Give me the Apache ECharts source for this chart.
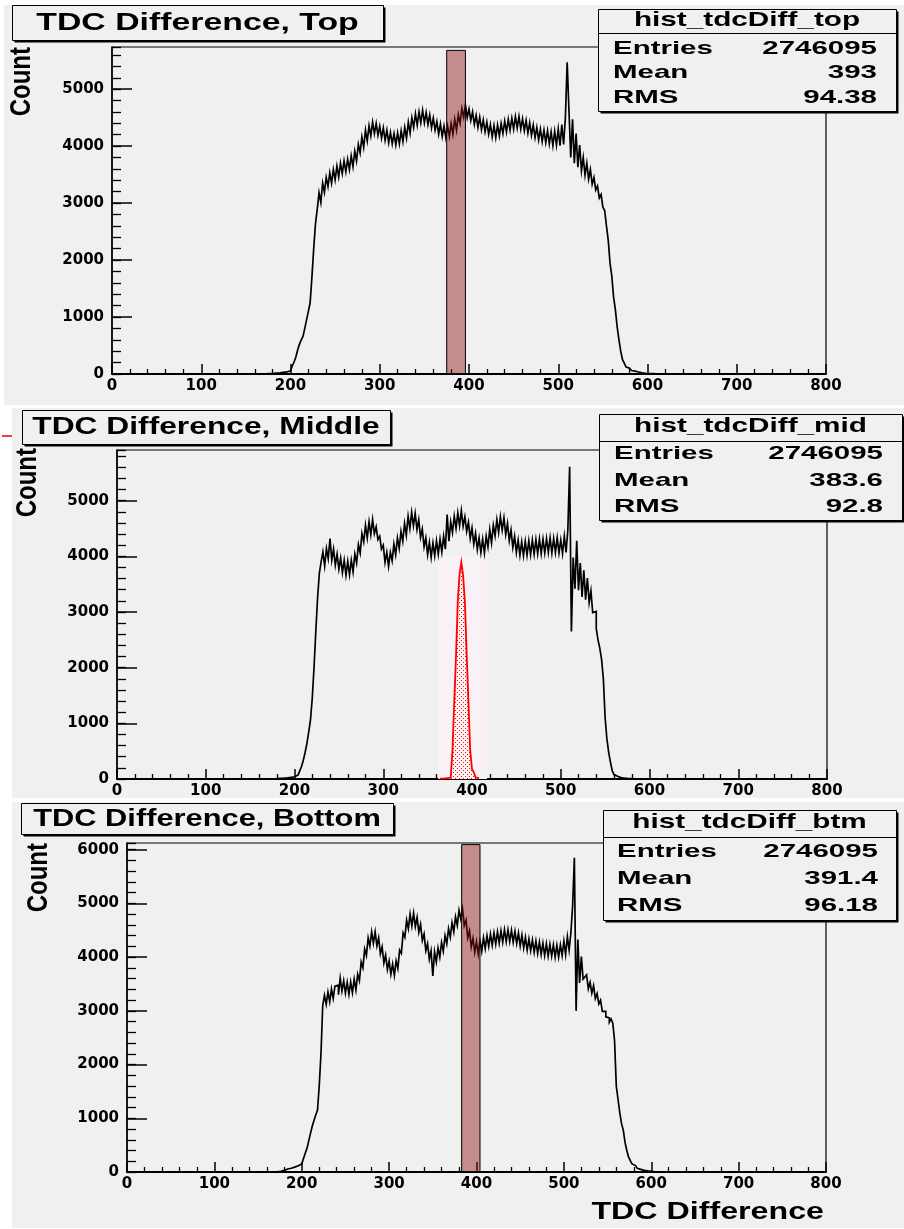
<!DOCTYPE html>
<html>
<head>
<meta charset="utf-8">
<title>TDC Difference</title>
<script src="https://cdn.jsdelivr.net/npm/echarts@6/dist/echarts.min.js"></script>
<style>
  html, body { margin: 0; padding: 0; background: #ffffff; }
  #wrap { position: relative; width: 904px; height: 1229px; }
  .pad { position: absolute; background: #f0f0f0; }
  #chart { position: absolute; left: 0; top: 0; width: 904px; height: 1229px; }
</style>
</head>
<body>
<div id="wrap">
  <div class="pad" style="left:4px;top:5px;width:900px;height:400px"></div>
  <div class="pad" style="left:12px;top:408px;width:892px;height:390px"></div>
  <div class="pad" style="left:12px;top:802px;width:892px;height:426px"></div>
  <div id="chart"></div>
</div>
<script>
// ---- histogram binning (lower edge of the first bin, bin width) ----
const binStart = 160;
const binWidth = 2;

// ---- counts per bin, top detector ----
const topCounts = [
  0, 0, 0, 2, 0, 3, 2, 5, 8, 6,
  12, 15, 14, 20, 24, 28, 32, 36, 44, 55,
  72, 140, 210, 300, 420, 520, 600, 660, 800, 950,
  1100, 1250, 1700, 2200, 2640, 2900, 3180, 3010, 3350, 3190,
  3450, 3290, 3530, 3350, 3590, 3410, 3650, 3460, 3700, 3520,
  3740, 3550, 3770, 3590, 3830, 3640, 3910, 3740, 4030, 3880,
  4160, 3980, 4280, 4090, 4360, 4180, 4420, 4220, 4400, 4190,
  4350, 4140, 4320, 4100, 4280, 4060, 4240, 4040, 4220, 4020,
  4230, 4040, 4270, 4080, 4330, 4140, 4420, 4230, 4500, 4330,
  4570, 4370, 4600, 4410, 4630, 4410, 4590, 4380, 4550, 4320,
  4490, 4280, 4430, 4210, 4390, 4170, 4350, 4150, 4350, 4170,
  4400, 4210, 4470, 4280, 4550, 4400, 4660, 4510, 4720, 4500,
  4650, 4450, 4600, 4380, 4540, 4330, 4510, 4290, 4460, 4250,
  4420, 4210, 4380, 4160, 4360, 4150, 4370, 4180, 4400, 4220,
  4440, 4250, 4470, 4280, 4490, 4300, 4520, 4320, 4520, 4300,
  4480, 4270, 4450, 4230, 4410, 4190, 4370, 4150, 4330, 4110,
  4300, 4080, 4280, 4060, 4270, 4040, 4250, 4010, 4260, 4020,
  4300, 4010, 4380, 4030, 4500, 5470, 4620, 3800, 4470, 3700,
  4220, 3630, 4020, 3570, 3800, 3490, 3700, 3420, 3590, 3330,
  3450, 3230, 3300, 3090, 3150, 2930, 2870, 2600, 2350, 1950,
  1720, 1350, 1130, 830, 600, 400, 250, 190, 120, 100,
  80, 60, 50, 40, 35, 25, 20, 15, 12, 10,
  8, 6, 5, 4, 3, 2, 1, 0, 0, 0
];

// ---- counts per bin, middle detector ----
const midCounts = [
  0, 0, 0, 0, 2, 0, 3, 4, 5, 6,
  8, 10, 12, 14, 16, 20, 24, 28, 34, 40,
  50, 70, 100, 150, 230, 340, 480, 640, 840, 1060,
  1450, 2000, 2650, 3250, 3700, 3900, 4080, 3830, 4140, 3960,
  4320, 3930, 4130, 3840, 4040, 3770, 3970, 3710, 3930, 3660,
  3910, 3670, 3930, 3720, 4040, 3880, 4210, 4060, 4410, 4260,
  4560, 4330, 4620, 4390, 4660, 4410, 4530, 4300, 4360, 4130,
  4200, 3890, 4070, 3820, 4070, 3920, 4220, 4030, 4330, 4140,
  4450, 4270, 4590, 4380, 4720, 4500, 4790, 4550, 4770, 4480,
  4660, 4340, 4490, 4170, 4330, 4030, 4250, 3980, 4240, 4010,
  4280, 4040, 4310, 4080, 4360, 4130, 4750, 4270, 4620, 4430,
  4720, 4500, 4780, 4550, 4820, 4540, 4710, 4450, 4610, 4320,
  4510, 4220, 4410, 4120, 4330, 4070, 4310, 4060, 4360, 4170,
  4480, 4240, 4560, 4370, 4660, 4430, 4710, 4470, 4690, 4390,
  4590, 4280, 4470, 4160, 4360, 4070, 4290, 4020, 4260, 4010,
  4270, 4020, 4280, 4030, 4290, 4040, 4300, 4050, 4310, 4050,
  4310, 4060, 4320, 4070, 4330, 4060, 4320, 4070, 4330, 4060,
  4290, 4050, 4360, 4070, 4480, 5610, 2650, 3980, 3420, 4280,
  3390, 3880, 3270, 3750, 3220, 3610, 3170, 3380, 2990, 3010,
  2700, 2500, 2350, 2150, 1800, 1100, 720, 480, 300, 150,
  80, 50, 30, 25, 18, 14, 10, 8, 6, 5,
  4, 3, 2, 1, 0, 0, 0, 0, 0, 0,
  0, 0, 0, 0, 0, 0, 0, 0, 0, 0
];

// ---- counts per bin, bottom detector ----
const btmCounts = [
  0, 0, 0, 2, 4, 6, 10, 14, 20, 30,
  45, 55, 62, 70, 80, 90, 100, 115, 130, 150,
  170, 250, 350, 440, 580, 720, 850, 960, 1060, 1150,
  1600, 2200, 3100, 3290, 3120, 3350, 3170, 3410, 3230, 3460,
  3480, 3300, 3610, 3370, 3560, 3330, 3530, 3310, 3540, 3340,
  3590, 3390, 3680, 3560, 3910, 3800, 4150, 4030, 4360, 4210,
  4470, 4260, 4470, 4210, 4360, 4060, 4190, 3890, 4040, 3770,
  3930, 3680, 3870, 3660, 3930, 3790, 4130, 4070, 4450, 4370,
  4690, 4530, 4800, 4580, 4820, 4570, 4740, 4460, 4610, 4310,
  4430, 4120, 4250, 3960, 4120, 3650, 4100, 3910, 4170, 4000,
  4270, 4110, 4400, 4250, 4530, 4370, 4640, 4470, 4750, 4590,
  4870, 4710, 4900, 4590, 4690, 4360, 4490, 4190, 4350, 4090,
  4290, 4060, 4300, 4110, 4360, 4160, 4400, 4200, 4430, 4220,
  4450, 4240, 4470, 4260, 4490, 4280, 4510, 4290, 4510, 4290,
  4500, 4280, 4480, 4250, 4450, 4210, 4410, 4170, 4370, 4130,
  4340, 4120, 4320, 4090, 4300, 4070, 4280, 4050, 4260, 4030,
  4250, 4020, 4240, 4020, 4230, 4000, 4220, 4000, 4230, 4030,
  4300, 4050, 4380, 4130, 4450, 4950, 5850, 3000, 4330, 3520,
  4010, 3590, 3630, 3670, 3410, 3530, 3330, 3470, 3230, 3320,
  3130, 3200, 2990, 2990, 2890, 2870, 2790, 2850, 2770, 2450,
  1600, 1350, 1100, 900, 780, 550, 400, 280, 210, 150,
  120, 90, 70, 50, 40, 30, 25, 20, 15, 12,
  8, 6, 4, 3, 2, 1, 0, 0, 0, 0
];

// ---- selected-window histogram in the middle detector ----
const selStart = 364;
const selCounts = [5, 8, 12, 15, 20, 25, 30, 510, 1380, 2215, 3200, 3680, 3890, 3650, 3170, 2245, 1377, 509, 180, 120, 30, 10];

// ---- cut windows: [low edge, high edge, height] ----
const topWindow = [375, 396, 5680];
const midWindow = [362, 417, 4000];
const btmWindow = [383, 404, 6095];

// ---- axes ----
const xRange = [0, 800];
const yMax = [5740, 5910, 6125];

// ---- text ----
const panelTitles = ['TDC Difference, Top', 'TDC Difference, Middle', 'TDC Difference, Bottom'];
const histNames = ['hist_tdcDiff_top', 'hist_tdcDiff_mid', 'hist_tdcDiff_btm'];
const statLabels = ['Entries', 'Mean', 'RMS'];
const statEntries = ['2746095', '2746095', '2746095'];
const statMeans = ['393', '383.6', '391.4'];
const statRms = ['94.38', '92.8', '96.18'];
const yTitle = 'Count';
const xTitle = 'TDC Difference';

// ---- page layout ----
const layout = [
  { grid: { left: 112, top: 47, width: 714, height: 327 },
    title: [12, 5, 383, 40], titleScale: 1.47, stats: [598, 9, 896, 111], statsLine: 33, rows: [20.7, 49, 72.7, 97.3],
    labelX: 613, valueX: 877, count: [22, 47] },
  { grid: { left: 117, top: 450, width: 710, height: 329 },
    title: [22, 410, 390, 444], titleScale: 1.38, stats: [599, 414, 902, 520], statsLine: 441, rows: [426.7, 453.3, 480.7, 506.7],
    labelX: 614, valueX: 883, count: [28, 448] },
  { grid: { left: 127, top: 843, width: 699, height: 329 },
    title: [21, 803, 393, 834], titleScale: 1.34, stats: [603, 810, 896, 920], statsLine: 837, rows: [822.7, 851.7, 879, 906],
    labelX: 617, valueX: 878, count: [39, 843] }
];

const PAD_BG = '#f0f0f0';
const TEXT_FONT = '"Liberation Sans", Arial, sans-serif';
const TICK_FONT = '"DejaVu Sans", sans-serif';

// histogram outline: each bin contributes its two edges at its own height,
// consecutive bins meet in a vertical segment
function histOutline(counts, start, width) {
  const pts = [];
  counts.forEach((v, i) => {
    pts.push([start + i * width, v]);
    pts.push([start + (i + 1) * width, v]);
  });
  return pts;
}

// dense red dot fill
function dotPattern() {
  const c = document.createElement('canvas');
  c.width = 4; c.height = 4;
  const g = c.getContext('2d');
  g.fillStyle = '#fff5f7';
  g.fillRect(0, 0, 4, 4);
  g.fillStyle = '#ff0000';
  g.fillRect(1, 0, 1, 1);
  g.fillRect(3, 2, 1, 1);
  return c;
}

function windowSeries(idx, win, style, z) {
  return {
    type: 'custom',
    xAxisIndex: idx, yAxisIndex: 2 * idx,
    z: z, silent: true,
    encode: { x: [0, 1], y: 2 },
    data: [win],
    renderItem: function (params, api) {
      const p0 = api.coord([api.value(0), api.value(2)]);
      const p1 = api.coord([api.value(1), 0]);
      return {
        type: 'rect',
        shape: { x: p0[0], y: p0[1], width: p1[0] - p0[0], height: p1[1] - p0[1] },
        style: style
      };
    }
  };
}

const plainNumber = v => String(v);
const grids = [], xAxes = [], yAxes = [], series = [], elements = [];
const countsList = [topCounts, midCounts, btmCounts];

layout.forEach((L, i) => {
  grids.push(Object.assign({ show: true, borderColor: '#000', borderWidth: 1.2,
    backgroundColor: 'transparent', containLabel: false, outerBoundsMode: 'none' }, L.grid));

  xAxes.push({
    type: 'value', gridIndex: i, min: xRange[0], max: xRange[1], interval: 100,
    axisLine: { show: true, onZero: false, lineStyle: { color: '#000', width: 2 } },
    axisTick: { show: true, inside: true, length: 10, lineStyle: { color: '#000', width: 1.5 } },
    minorTick: { show: true, splitNumber: 5, length: 5, lineStyle: { color: '#000', width: 1.3 } },
    splitLine: { show: false }, minorSplitLine: { show: false },
    axisLabel: { margin: 5, color: '#000', fontFamily: TICK_FONT, fontWeight: 'bold', fontSize: 15, formatter: plainNumber }
  });

  // labelled axis with the long ticks every 1000
  yAxes.push({
    type: 'value', gridIndex: i, position: 'left', min: 0, max: yMax[i], interval: 1000,
    axisLine: { show: true, onZero: false, lineStyle: { color: '#000', width: 1.5 } },
    axisTick: { show: true, inside: true, length: 20, lineStyle: { color: '#000', width: 1.5 } },
    splitLine: { show: false },
    axisLabel: { showMaxLabel: false, margin: 8, color: '#000', fontFamily: TICK_FONT, fontWeight: 'bold', fontSize: 15, formatter: plainNumber }
  });
  // short ticks every 200
  yAxes.push({
    type: 'value', gridIndex: i, position: 'left', offset: 0, min: 0, max: yMax[i], interval: 200,
    axisLine: { show: false },
    axisTick: { show: true, inside: true, length: 9, lineStyle: { color: '#000', width: 1.3 } },
    splitLine: { show: false }, axisLabel: { show: false }
  });

  series.push({
    type: 'line', xAxisIndex: i, yAxisIndex: 2 * i,
    showSymbol: false, symbol: 'none', silent: true, z: 2,
    lineStyle: { color: '#000', width: 1.7, join: 'miter' },
    data: histOutline(countsList[i], binStart, binWidth)
  });

  // title box
  const [tx0, ty0, tx1, ty1] = L.title;
  elements.push({ type: 'rect', z: 100, shape: { x: tx0 + 2.5, y: ty0 + 2.5, width: tx1 - tx0, height: ty1 - ty0 }, style: { fill: '#000' } });
  elements.push({ type: 'rect', z: 101, shape: { x: tx0 + 0.5, y: ty0 + 0.5, width: tx1 - tx0, height: ty1 - ty0 }, style: { fill: PAD_BG, stroke: '#000', lineWidth: 1 } });
  elements.push({ type: 'text', z: 102, x: (tx0 + tx1) / 2, y: (ty0 + ty1) / 2 + 1, scaleX: L.titleScale,
    style: { text: panelTitles[i], fill: '#000', fontFamily: TEXT_FONT, fontWeight: 'bold', fontSize: 23, align: 'center', verticalAlign: 'middle' } });

  // statistics box
  const [sx0, sy0, sx1, sy1] = L.stats;
  elements.push({ type: 'rect', z: 100, shape: { x: sx0 + 2.5, y: sy0 + 2.5, width: sx1 - sx0, height: sy1 - sy0 }, style: { fill: '#000' } });
  elements.push({ type: 'rect', z: 101, shape: { x: sx0 + 0.5, y: sy0 + 0.5, width: sx1 - sx0, height: sy1 - sy0 }, style: { fill: PAD_BG, stroke: '#000', lineWidth: 1 } });
  elements.push({ type: 'line', z: 102, shape: { x1: sx0, y1: L.statsLine + 0.5, x2: sx1, y2: L.statsLine + 0.5 }, style: { stroke: '#000', lineWidth: 1 } });
  elements.push({ type: 'text', z: 102, x: (sx0 + sx1) / 2, y: L.rows[0], scaleX: 1.45,
    style: { text: histNames[i], fill: '#000', fontFamily: TEXT_FONT, fontWeight: 'bold', fontSize: 20.5, align: 'center', verticalAlign: 'middle' } });
  const vals = [statEntries[i], statMeans[i], statRms[i]];
  statLabels.forEach((lab, k) => {
    elements.push({ type: 'text', z: 102, x: L.labelX, y: L.rows[k + 1], scaleX: 1.55,
      style: { text: lab, fill: '#000', fontFamily: TEXT_FONT, fontWeight: 'bold', fontSize: 19, align: 'left', verticalAlign: 'middle' } });
    elements.push({ type: 'text', z: 102, x: L.valueX, y: L.rows[k + 1], scaleX: 1.55,
      style: { text: vals[k], fill: '#000', fontFamily: TEXT_FONT, fontWeight: 'bold', fontSize: 19, align: 'right', verticalAlign: 'middle' } });
  });

  // rotated y title
  elements.push({ type: 'text', z: 102, x: L.count[0], y: L.count[1], rotation: Math.PI / 2, scaleY: 1.22,
    style: { text: yTitle, fill: '#000', fontFamily: TEXT_FONT, fontWeight: 'bold', fontSize: 24, align: 'right', verticalAlign: 'middle' } });
});

// cut windows
series.push(windowSeries(0, topWindow, { fill: 'rgba(139, 20, 20, 0.45)', stroke: '#000', lineWidth: 1 }, 3));
series.push(windowSeries(2, btmWindow, { fill: 'rgba(139, 20, 20, 0.45)', stroke: '#000', lineWidth: 1 }, 3));
series.push(windowSeries(1, midWindow, { fill: '#f8f2f6' }, 1));

// selected-window histogram, red with dotted fill
series.push({
  type: 'line', xAxisIndex: 1, yAxisIndex: 2,
  showSymbol: false, symbol: 'none', silent: true, z: 4,
  lineStyle: { color: '#ff0000', width: 1.8, join: 'miter' },
  areaStyle: { color: { image: dotPattern(), repeat: 'repeat' }, opacity: 1 },
  data: histOutline(selCounts, selStart, binWidth)
});

// x title under the last panel
elements.push({ type: 'text', z: 102, x: 824, y: 1213, scaleX: 1.4,
  style: { text: xTitle, fill: '#000', fontFamily: TEXT_FONT, fontWeight: 'bold', fontSize: 23, align: 'right', verticalAlign: 'middle' } });

// small red mark at the left edge of the middle pad
elements.push({ type: 'line', z: 102, shape: { x1: 2, y1: 436, x2: 12, y2: 436 }, style: { stroke: '#e00000', lineWidth: 1.5 } });

const chart = echarts.init(document.getElementById('chart'), null, { renderer: 'canvas', width: 904, height: 1229 });
chart.setOption({
  animation: false,
  backgroundColor: 'transparent',
  grid: grids,
  xAxis: xAxes,
  yAxis: yAxes,
  series: series,
  graphic: { elements: elements }
});
</script>
</body>
</html>
